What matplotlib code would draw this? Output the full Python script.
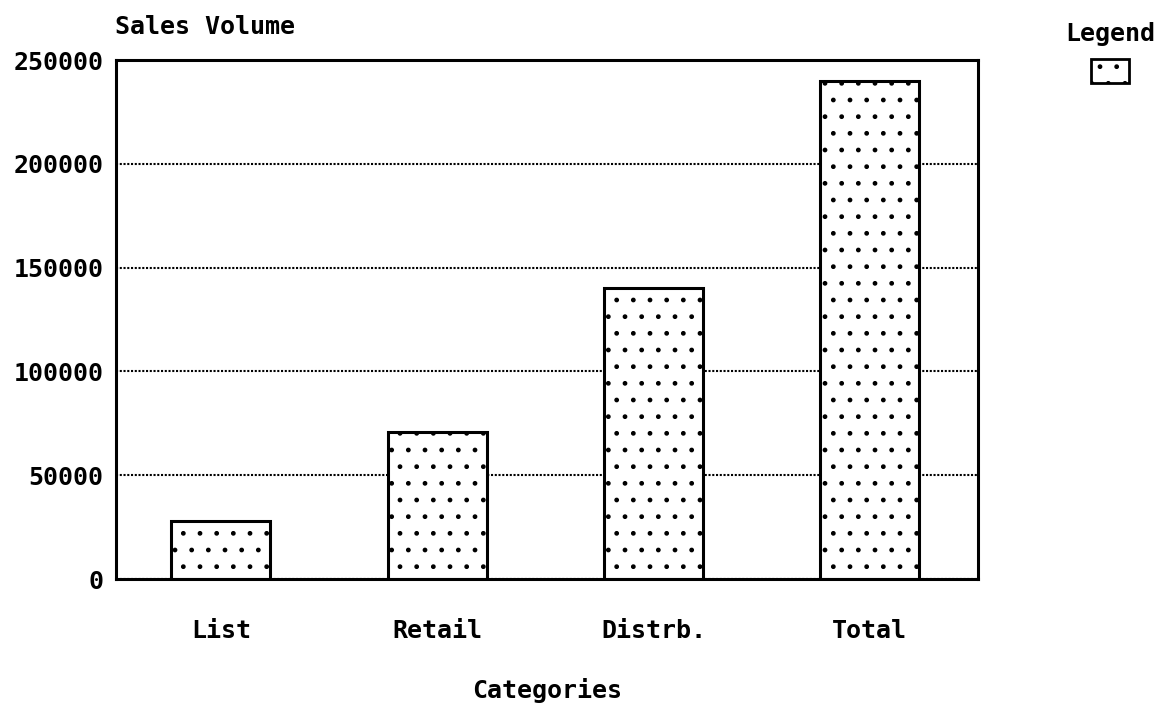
import matplotlib
matplotlib.use("Agg")
import matplotlib.pyplot as plt
from matplotlib.patches import Patch
import numpy as np

categories = ["List", "Retail", "Distrb.", "Total"]
sales = [28000, 71000, 140000, 240000]
yticks = [0, 50000, 100000, 150000, 200000, 250000]

plt.rcParams.update({
    "font.family": "DejaVu Sans Mono",
    "font.size": 18,
    "font.weight": "bold",
    "axes.labelweight": "bold",
    "hatch.linewidth": 1.0,
})

fig = plt.figure(figsize=(11.6, 7.07), dpi=100)
ax = fig.add_axes([0.1, 0.181, 0.743, 0.734])

x = np.arange(len(categories))
ax.bar(x, sales, width=0.457, color="white", edgecolor="black", lw=2.2,
       hatch=".", zorder=2)

ax.set_xlim(-0.485, 3.5)
ax.set_ylim(0, 250000)
ax.set_yticks(yticks)
ax.set_yticklabels([str(v) for v in yticks])
ax.set_xticks(x)
ax.set_xticklabels(categories)
ax.tick_params(axis="both", length=0)
ax.tick_params(axis="y", pad=9)
ax.tick_params(axis="x", pad=29)

ax.set_axisbelow(True)
ax.yaxis.grid(True, color="black", linestyle=(0, (1, 0.8)), lw=1.5)
ax.xaxis.grid(False)
for sp in ax.spines.values():
    sp.set_linewidth(2.2)
    sp.set_zorder(3)

ax.set_xlabel("Categories", labelpad=25)
fig.text(115 / 1160, 1 - 27 / 707, "Sales Volume", ha="left", va="center")

handle = Patch(facecolor="white", edgecolor="black", hatch=".", lw=2)
ax.legend(handles=[handle], labels=[""], title="Legend", frameon=False,
          loc="upper center", bbox_to_anchor=(1110 / 1160, 1 - 10 / 707),
          bbox_transform=fig.transFigure, handlelength=1.5, handleheight=1.1,
          handletextpad=0, borderpad=0, title_fontsize=18)

fig.savefig("out.png", dpi=100)
